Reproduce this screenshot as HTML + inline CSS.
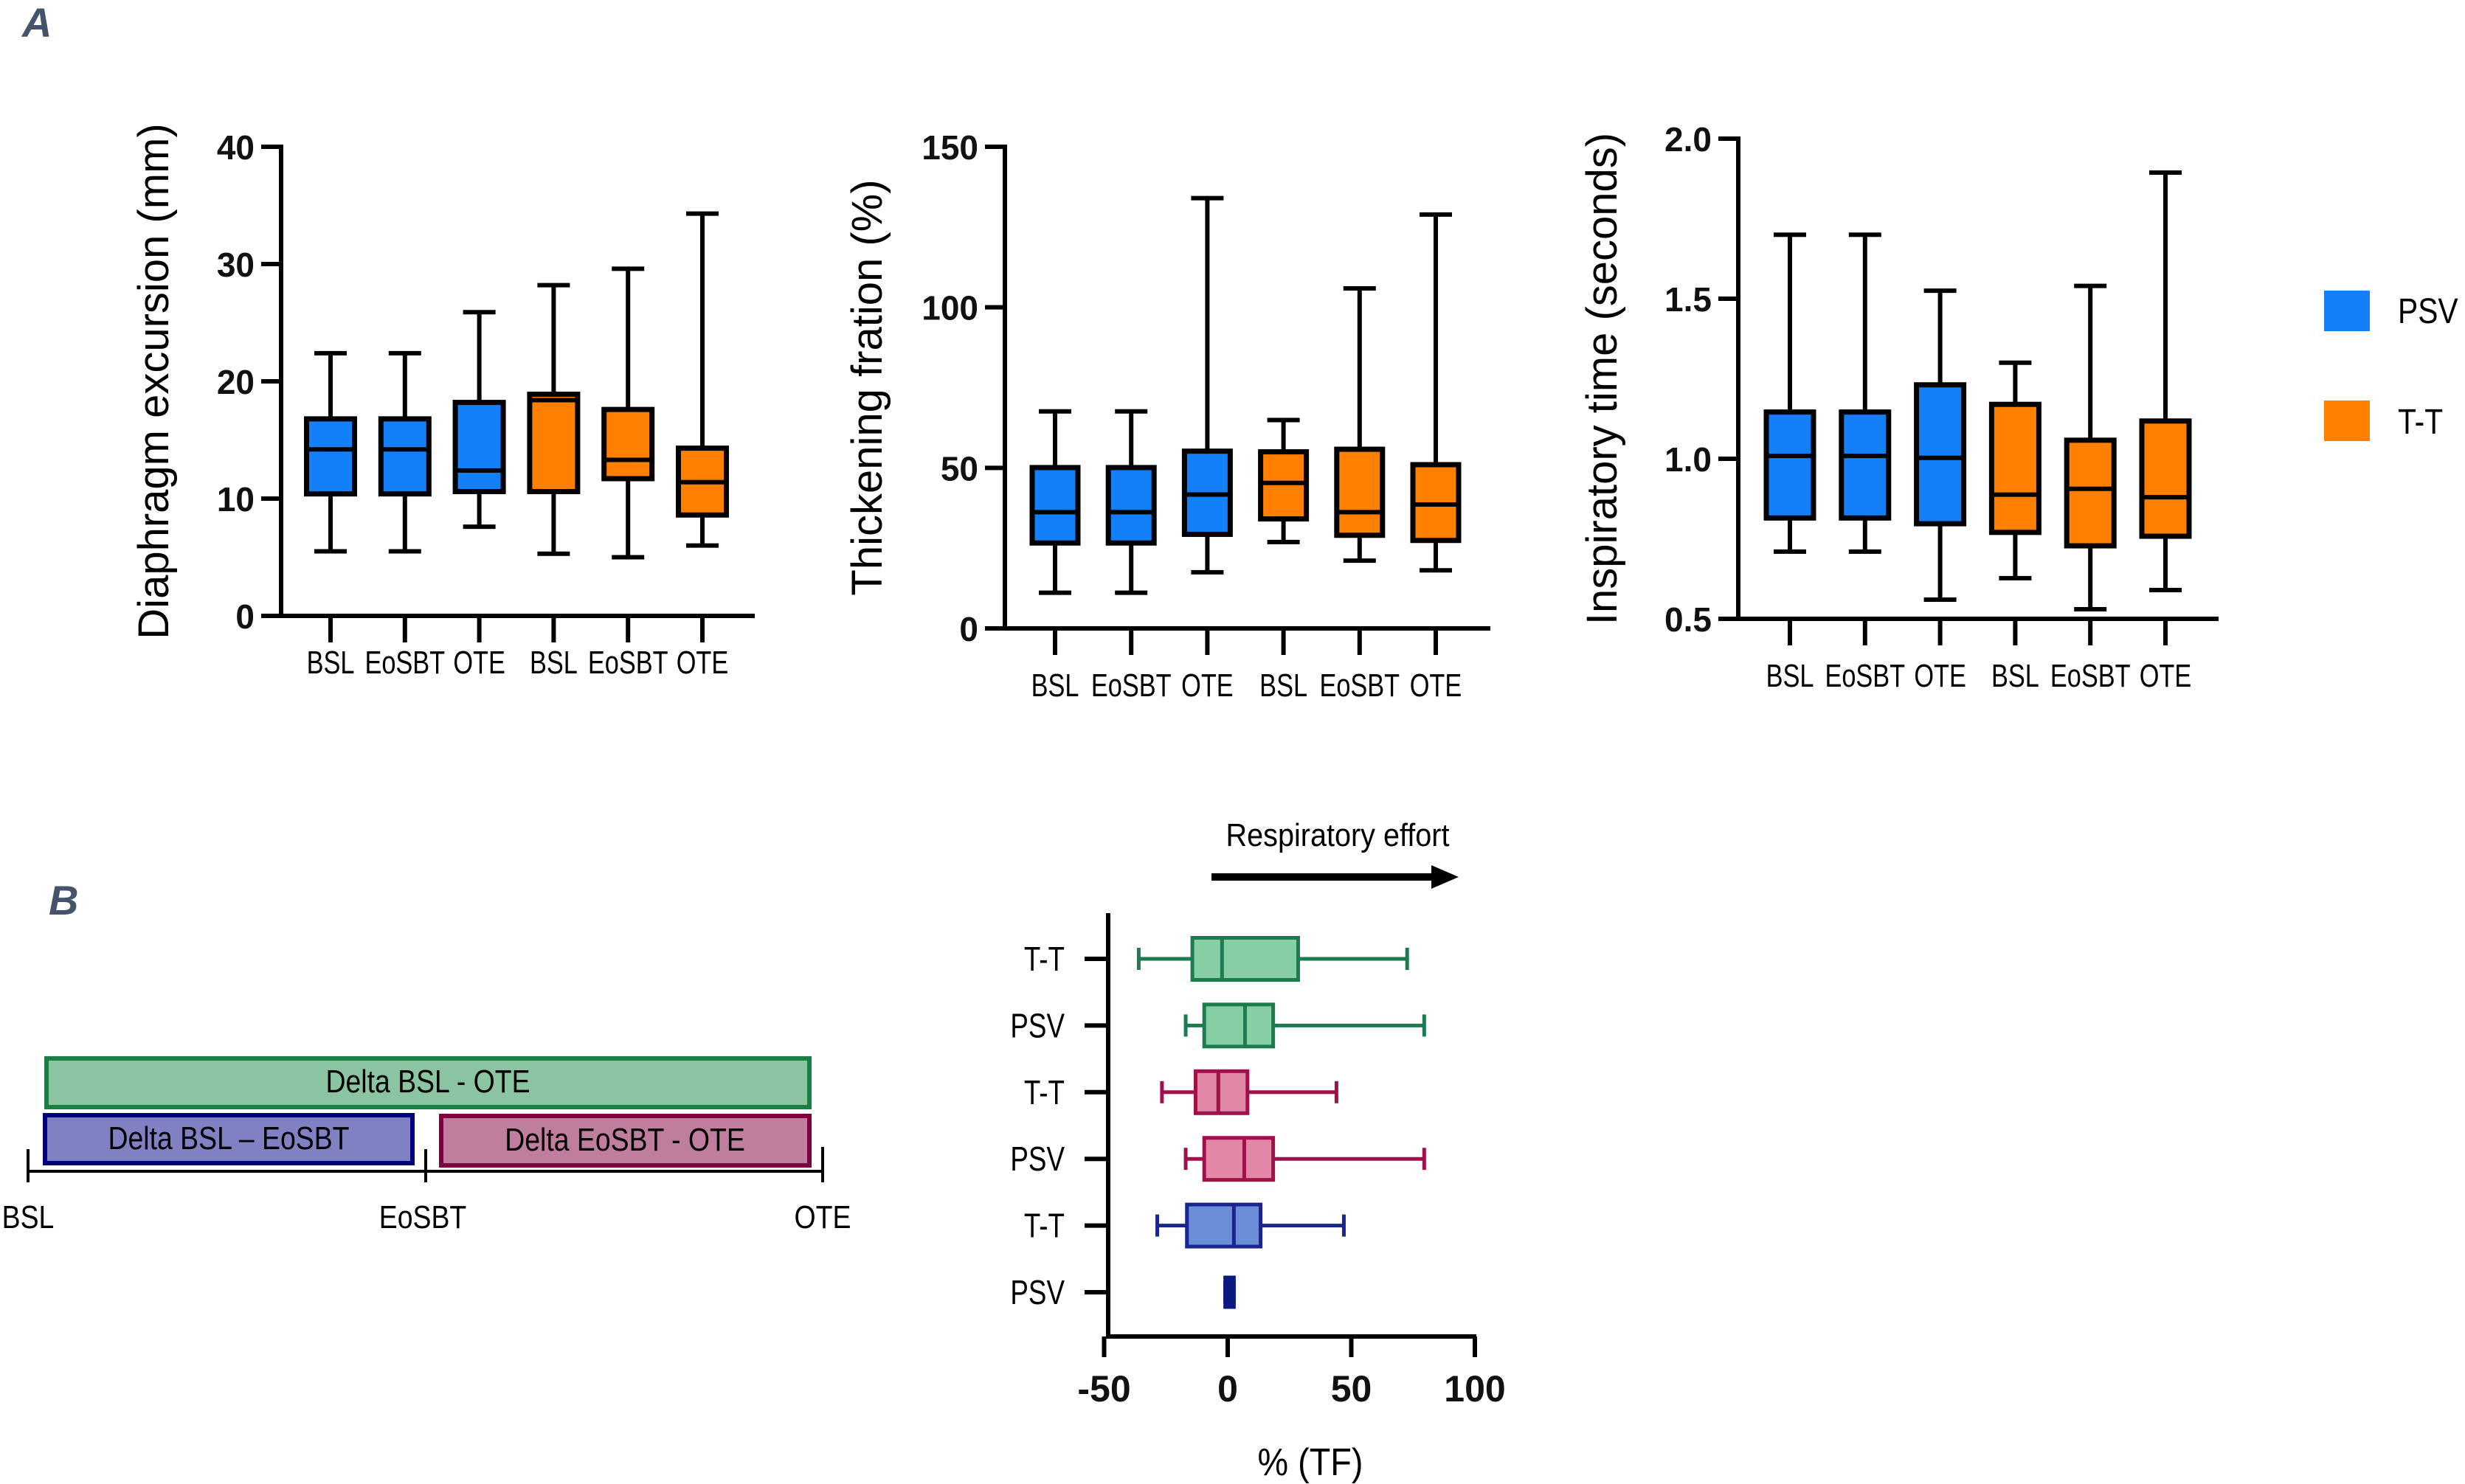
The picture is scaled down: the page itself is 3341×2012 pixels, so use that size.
<!DOCTYPE html>
<html><head><meta charset="utf-8">
<style>
html,body{margin:0;padding:0;background:#fff;}
svg{display:block;}
text{font-family:"Liberation Sans",sans-serif;}
</style></head>
<body>
<svg id="fig" width="3341" height="2012" viewBox="0 0 3341 2012" xmlns="http://www.w3.org/2000/svg">
<text x="30" y="50" font-size="56" font-weight="bold" font-style="italic" fill="#44546A">A</text>
<text x="66" y="1240" font-size="56" font-weight="bold" font-style="italic" fill="#44546A">B</text>

<!-- legend -->
<rect x="3150" y="394" width="62" height="55" fill="#1380FA"/>
<text transform="translate(3250 438) scale(0.85 1)" font-size="48" fill="#000">PSV</text>
<rect x="3150" y="543" width="62" height="55" fill="#FF8000"/>
<text transform="translate(3250 588) scale(0.85 1)" font-size="48" fill="#000">T-T</text>

<!-- panel B timeline -->
<rect x="63" y="1435" width="1034" height="66" fill="#8BC4A0" stroke="#1A7F45" stroke-width="6"/>
<text transform="translate(580 1481) scale(0.85 1)" font-size="44" text-anchor="middle">Delta BSL - OTE</text>
<rect x="61" y="1512" width="498" height="65" fill="#7F81C3" stroke="#00007F" stroke-width="6"/>
<text transform="translate(310 1558) scale(0.85 1)" font-size="44" text-anchor="middle">Delta BSL – EoSBT</text>
<rect x="598" y="1513" width="499" height="67" fill="#C07E9E" stroke="#7F0040" stroke-width="6"/>
<text transform="translate(847 1560) scale(0.85 1)" font-size="44" text-anchor="middle">Delta EoSBT - OTE</text>
<g stroke="#000" stroke-width="4">
<line x1="38" y1="1588" x2="1115" y2="1588"/>
<line x1="38" y1="1558" x2="38" y2="1603"/>
<line x1="577" y1="1558" x2="577" y2="1603"/>
<line x1="1115" y1="1555" x2="1115" y2="1603"/>
</g>
<text transform="translate(38 1665) scale(0.85 1)" font-size="44" text-anchor="middle">BSL</text>
<text transform="translate(573 1665) scale(0.85 1)" font-size="44" text-anchor="middle">EoSBT</text>
<text transform="translate(1115 1665) scale(0.85 1)" font-size="44" text-anchor="middle">OTE</text>

<text transform="translate(1813 1147) scale(0.9 1)" font-size="44" text-anchor="middle">Respiratory effort</text>
<line x1="1642" y1="1189" x2="1945" y2="1189" stroke="#000" stroke-width="10"/>
<polygon points="1940,1173 1977,1189 1940,1205" fill="#000"/>
<g id="charts"></g>
</svg>
<script>
const NS="http://www.w3.org/2000/svg";
const cats=["BSL","EoSBT","OTE","BSL","EoSBT","OTE"];
// chart 1: diaphragm excursion
const c1Min=[5.5,5.5,7.6,5.3,5.0,6.0];
const c1Q1=[10.4,10.4,10.6,10.6,11.7,8.6];
const c1Med=[14.2,14.2,12.4,18.4,13.3,11.4];
const c1Q3=[16.8,16.8,18.2,18.9,17.6,14.3];
const c1Max=[22.4,22.4,25.9,28.2,29.6,34.3];
const c1Ticks=[0,10,20,30,40];
// chart 2: thickening fraction
const c2Min=[11.1,11.1,17.5,26.9,21.1,18.1];
const c2Q1=[26.6,26.6,29.3,34.1,29.0,27.4];
const c2Med=[36.2,36.2,41.7,45.3,36.2,38.6];
const c2Q3=[50.1,50.1,55.2,55.0,55.8,51.0];
const c2Max=[67.6,67.6,134,64.9,105.9,128.9];
const c2Ticks=[0,50,100,150];
// chart 3: inspiratory time
const c3Min=[0.71,0.71,0.56,0.627,0.53,0.59];
const c3Q1=[0.815,0.815,0.797,0.77,0.728,0.758];
const c3Med=[1.009,1.009,1.003,0.888,0.906,0.88];
const c3Q3=[1.146,1.146,1.231,1.17,1.058,1.118];
const c3Max=[1.70,1.70,1.525,1.30,1.54,1.894];
const c3Ticks=["0.5","1.0","1.5","2.0"];
// panel B horizontal
const bRows=["T-T","PSV","T-T","PSV","T-T","PSV"];
const bMin=[-36,-17,-26.6,-17,-28.5,-1];
const bQ1=[-14.3,-9.5,-13,-9.5,-16.5,-1];
const bMed=[-2.3,7,-3.8,6.7,2.5,0.8];
const bQ3=[28.5,18.4,8,18.4,13.3,2.5];
const bMax=[72.6,79.5,44,79.5,47,2.5];
const bTicks=[-50,0,50,100];

const root=document.getElementById('charts');
function el(tag,attrs,parent,txt){const e=document.createElementNS(NS,tag);for(const k in attrs)e.setAttribute(k,attrs[k]);if(txt!==undefined)e.textContent=txt;(parent||root).appendChild(e);return e;}
const fills=["#1380FA","#1380FA","#1380FA","#FF8000","#FF8000","#FF8000"];

function vchart(o){
  const g=el('g',{});
  
  
  const y=v=>o.y0+(v-o.vmin)/(o.vmax-o.vmin)*(o.y1-o.y0);
  const x=i=>o.xc0+i*o.dx;
  const ax=el('g',{stroke:'#000','stroke-width':6,fill:'none'},g);
  
  
  el('line',{x1:o.ax,y1:y(o.vmax)-3,x2:o.ax,y2:o.y0+3},ax);
  el('line',{x1:o.ax-27,y1:o.y0,x2:o.xend,y2:o.y0},ax);
  o.ticks.forEach(t=>{
    const yy=y(parseFloat(t));
    el('line',{x1:o.ax-27,y1:yy,x2:o.ax,y2:yy},ax);
    const tl=el('text',{x:o.ax-36,y:yy+17,'font-size':46,'font-weight':'bold','text-anchor':'end',fill:'#111',stroke:'none'},g,String(t));
    
    
  });
  cats.forEach((c,i)=>{
    const xx=x(i);
    el('line',{x1:xx,y1:o.y0,x2:xx,y2:o.y0+36},ax);
    const cl=el('text',{transform:`translate(${xx} ${o.labY}) scale(0.78 1)`,'font-size':44,'text-anchor':'middle'},g,c);
    
    
    const bg=el('g',{stroke:'#000','stroke-width':6},g);
    
    
    const hw=o.bw/2;
    el('line',{x1:xx,y1:y(o.max[i]),x2:xx,y2:y(o.min[i])},bg);
    el('line',{x1:xx-22,y1:y(o.max[i]),x2:xx+22,y2:y(o.max[i])},bg);
    el('line',{x1:xx-22,y1:y(o.min[i]),x2:xx+22,y2:y(o.min[i])},bg);
    el('rect',{x:xx-hw,y:y(o.q3[i]),width:o.bw,height:y(o.q1[i])-y(o.q3[i]),fill:fills[i],'stroke-width':7},bg);
    el('line',{x1:xx-hw,y1:y(o.med[i]),x2:xx+hw,y2:y(o.med[i])},bg);
  });
  const cy=(o.y0+y(o.vmax))/2;
  const t=el('text',{x:o.tx,y:cy,'font-size':58,'text-anchor':'middle',transform:`rotate(-90 ${o.tx} ${cy})`},g,o.title);
  
  
}
vchart({name:'chart-diaphragm-excursion',ax:381,xend:1023,y0:835,y1:199,vmin:0,vmax:40,xc0:448,dx:100.8,bw:65,labY:913,tx:228,ticks:c1Ticks,min:c1Min,q1:c1Q1,med:c1Med,q3:c1Q3,max:c1Max,title:'Diaphragm excursion (mm)'});
vchart({name:'chart-thickening-fraction',ax:1362,xend:2020,y0:852,y1:199,vmin:0,vmax:150,xc0:1430,dx:103.2,bw:62,labY:944,tx:1195,ticks:c2Ticks,min:c2Min,q1:c2Q1,med:c2Med,q3:c2Q3,max:c2Max,title:'Thickening fration (%)'});
vchart({name:'chart-inspiratory-time',ax:2356,xend:3007,y0:839,y1:188,vmin:0.5,vmax:2.0,xc0:2426,dx:101.8,bw:64,labY:931,tx:2191,ticks:c3Ticks,min:c3Min,q1:c3Q1,med:c3Med,q3:c3Q3,max:c3Max,title:'Inspiratory time (seconds)'});

// horizontal panel B
(function(){
  const g=el('g',{});
  
  
  const x=v=>1664+v*(1999-1664)/100;
  const ry=i=>1300+i*90.4;
  const st=["#1E7A4F","#1E7A4F","#A0104A","#A0104A","#1A2590","#0A1A80"];
  const fl=["#86CFA5","#86CFA5","#E088A6","#E088A6","#6A8FD6","#0A1A80"];
  const ax=el('g',{stroke:'#000','stroke-width':6},g);
  
  
  el('line',{x1:1502,y1:1238,x2:1502,y2:1815},ax);
  el('line',{x1:1499,y1:1812,x2:2001,y2:1812},ax);
  bTicks.forEach(t=>{
    el('line',{x1:x(t),y1:1812,x2:x(t),y2:1840},ax);
    const tl=el('text',{x:x(t),y:1900,'font-size':50,'font-weight':'bold','text-anchor':'middle',fill:'#111'},g,String(t));
    
    
  });
  bRows.forEach((r,i)=>{
    const yy=ry(i);
    el('line',{x1:1470,y1:yy,x2:1502,y2:yy},ax);
    const rl=el('text',{transform:`translate(1443 ${yy+16}) scale(0.8 1)`,'font-size':46,'text-anchor':'end'},g,r);
    
    
    const bg=el('g',{stroke:st[i],'stroke-width':5},g);
    
    
    const h=(i===5)?40:57;
    el('line',{x1:x(bMin[i]),y1:yy,x2:x(bMax[i]),y2:yy},bg);
    el('line',{x1:x(bMin[i]),y1:yy-15,x2:x(bMin[i]),y2:yy+15},bg);
    el('line',{x1:x(bMax[i]),y1:yy-15,x2:x(bMax[i]),y2:yy+15},bg);
    el('rect',{x:x(bQ1[i]),y:yy-h/2,width:Math.max(x(bQ3[i])-x(bQ1[i]),8),height:h,fill:fl[i]},bg);
    el('line',{x1:x(bMed[i]),y1:yy-h/2,x2:x(bMed[i]),y2:yy+h/2},bg);
  });
  const t=el('text',{transform:'translate(1776 2000) scale(0.9 1)','font-size':52,'text-anchor':'middle'},g,'% (TF)');
  
  
})();
</script>
</body></html>
